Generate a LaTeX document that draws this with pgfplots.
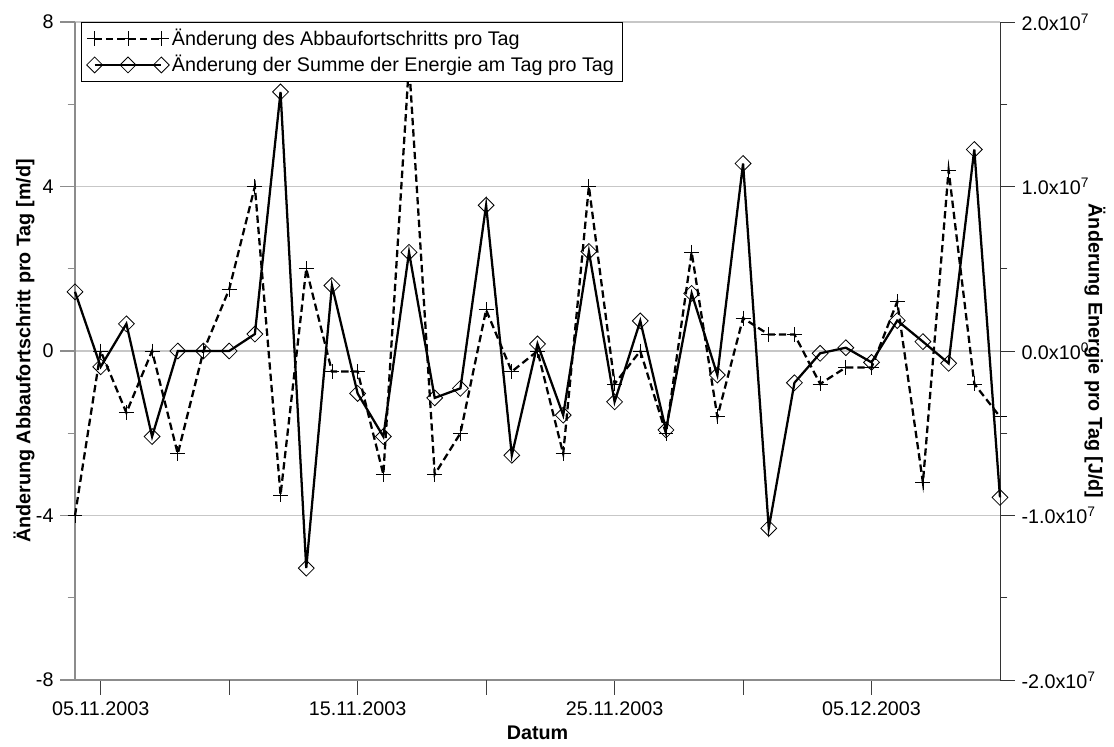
\documentclass[border=0pt]{standalone}
\usepackage{fontspec}
\setmainfont{Liberation Sans}
\usepackage{pgfplots}
\pgfplotsset{compat=1.18}
\begin{document}
\fontsize{14.8pt}{17.8pt}\selectfont
\begin{tikzpicture}[font=\fontsize{14.8pt}{17.8pt}\selectfont]
\pgfplotsset{
  every axis/.append style={
    scale only axis, width=693.75pt, height=493.5pt,
    xmin=0, xmax=36, clip=false,
    tick align=outside,
    major tick length=11pt, minor tick length=5.5pt,
  },
}
\begin{axis}[
  ymin=-8, ymax=8,
  ytick={-8,-4,0,4,8}, yticklabels={-8,-4,0,4,8},
  minor ytick={-6,-2,2,6},
  xtick={1,11,21,31},
  xticklabels={05.11.2003,15.11.2003,25.11.2003,05.12.2003},
  extra x ticks={6,16,26}, extra x tick labels={},
  extra x tick style={grid=none},
  ymajorgrids, grid style={black!22, line width=1.2pt},
  axis x line*=bottom, axis y line*=left,
  axis line style={-, black!45, line width=1.3pt},
  xtick style={black!75, line width=0.6pt},
  ytick style={black!45, line width=1.1pt},
  minor y tick style={black!45, line width=1.1pt},
  xlabel={\bfseries Datum},
  xlabel style={at={(axis description cs:0.5,-0.0805)}, anchor=center},
  ylabel={\bfseries Änderung Abbaufortschritt pro Tag [m/d]},
  ylabel style={at={(axis description cs:-0.0551,0.5)}, anchor=center},
]
\coordinate (SW) at (rel axis cs:0,0);
\coordinate (NE) at (rel axis cs:1,1);
\addplot[black, line width=1.7pt, dash pattern=on 5.5pt off 3pt, mark=+, mark size=5.6pt, mark options={solid, line width=0.6pt}] coordinates {
(0,-4)(1,0)(2,-1.5)(3,0)(4,-2.5)(5,0)(6,1.5)(7,4)(8,-3.5)(9,2)(10,-0.5)(11,-0.5)(12,-3)(13,7)(14,-3)(15,-2)(16,1)(17,-0.5)(18,0)(19,-2.5)(20,4)(21,-0.8)(22,0)(23,-2)(24,2.4)(25,-1.6)(26,0.8)(27,0.4)(28,0.4)(29,-0.8)(30,-0.4)(31,-0.4)(32,1.2)(33,-3.2)(34,4.4)(35,-0.8)(36,-1.6)
};
\end{axis}
\begin{axis}[
  ymin=-2e7, ymax=2e7,
  axis y line*=right, axis x line=none,
  ytick={-2e7,-1e7,0,1e7,2e7},
  yticklabels={-2.0x10\textsuperscript{7},-1.0x10\textsuperscript{7},0.0x10\textsuperscript{0},1.0x10\textsuperscript{7},2.0x10\textsuperscript{7}},
  minor ytick={-1.5e7,-0.5e7,0.5e7,1.5e7},
  scaled y ticks=false,
  axis line style={-, black!80, line width=0.6pt},
  ytick style={black!80, line width=0.6pt},
  minor y tick style={black!80, line width=0.6pt},
  ylabel={\bfseries Änderung Energie pro Tag [J/d]},
  ylabel style={at={(axis description cs:1.1027,0.5)}, anchor=center, rotate=180},
  legend style={at={(axis description cs:0,1)}, anchor=north west, xshift=4.5pt,
    draw=black, line width=0.6pt, inner xsep=4pt, inner ysep=3pt, row sep=1pt,
    cells={anchor=west}, font=\fontsize{14.8pt}{17.8pt}\selectfont},
  legend image code/.code={\draw[mark repeat=1,mark phase=1,#1] plot coordinates {(0pt,0pt)(25pt,0pt)(50pt,0pt)};},
]
\addlegendimage{black, line width=1.7pt, dash pattern=on 5.5pt off 3pt, mark=+, mark size=5.6pt, mark options={solid, line width=0.6pt}}
\addlegendentry{Änderung des Abbaufortschritts pro Tag}
\addplot[black, line width=1.7pt, mark=square, mark size=4.2pt, mark options={rotate=45, draw=black, line width=0.6pt, solid}] coordinates {
(0,3.6e6)(1,-0.96e6)(2,1.65e6)(3,-5.2e6)(4,0)(5,0)(6,0)(7,1.03e6)(8,1.575e7)(9,-1.32e7)(10,3.98e6)(11,-2.58e6)(12,-5.2e6)(13,6.0e6)(14,-2.85e6)(15,-2.27e6)(16,8.86e6)(17,-6.34e6)(18,0.43e6)(19,-3.9e6)(20,6.05e6)(21,-3.09e6)(22,1.83e6)(23,-4.8e6)(24,3.5e6)(25,-1.46e6)(26,1.14e7)(27,-1.078e7)(28,-1.93e6)(29,-0.14e6)(30,0.2e6)(31,-0.69e6)(32,1.85e6)(33,0.57e6)(34,-0.75e6)(35,1.225e7)(36,-8.9e6)
};
\addlegendentry{Änderung der Summe der Energie am Tag pro Tag}
\end{axis}
\path ([xshift=-56.25pt,yshift=-48pt]SW) rectangle ([xshift=85.5pt,yshift=16.5pt]NE);
\end{tikzpicture}
\end{document}
